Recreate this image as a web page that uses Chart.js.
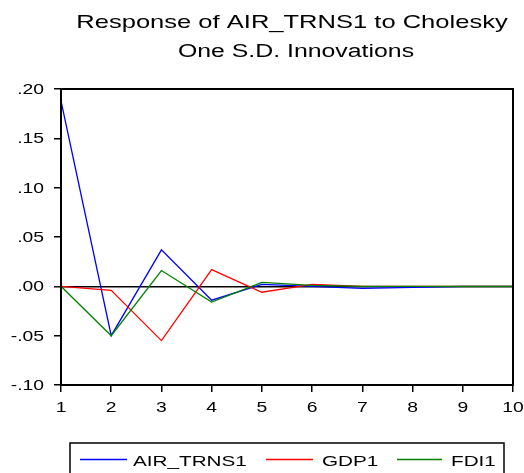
<!DOCTYPE html>
<html>
<head>
<meta charset="utf-8">
<script src="https://cdn.jsdelivr.net/npm/chart.js@4"></script>
<style>
  body { margin: 0; background: #fff; }
</style>
</head>
<body>
<canvas id="irfChart" width="524" height="473"></canvas>
<script>
// ===== DATA =====
const periods = [1, 2, 3, 4, 5, 6, 7, 8, 9, 10];
const airTrns1 = [0.188, -0.050, 0.037, -0.014, 0.002, 0.000, -0.002, -0.001, 0.000, 0.000];
const gdp1 = [0.000, -0.004, -0.055, 0.017, -0.006, 0.002, 0.000, 0.000, 0.000, 0.000];
const fdi1 = [0.000, -0.050, 0.016, -0.016, 0.004, 0.001, 0.000, 0.000, 0.000, 0.000];
const titleLines = ["Response of AIR_TRNS1 to Cholesky", "One S.D. Innovations"];

const FONT = "'Liberation Sans', Arial, sans-serif";
const STRETCH = 1.38; // the original picture is wider than normal text

function stretchedText(ctx, text, x, y, align, size) {
    ctx.save();
    ctx.font = size + "px " + FONT;
    ctx.fillStyle = "#000";
    ctx.textBaseline = "alphabetic";
    const w = ctx.measureText(text).width * STRETCH;
    let left = x;
    if (align === "center") left = x - w / 2;
    if (align === "right") left = x - w;
    ctx.translate(left, y);
    ctx.scale(STRETCH, 1);
    ctx.textAlign = "left";
    ctx.fillText(text, 0, 0);
    ctx.restore();
}

function fmtTick(v) {
    let s = Math.abs(v).toFixed(2).replace(/^0/, "");
    return (v < -1e-9 ? "-" : "") + s;
}

const toPoints = arr => periods.map((p, i) => ({ x: p, y: arr[i] }));

// ===== EXTRA DRAWING: title, frame, tick labels, legend =====
const decorPlugin = {
    id: "decor",
    afterDraw(chart) {
        const ctx = chart.ctx;
        const area = chart.chartArea;

        // title
        stretchedText(ctx, titleLines[0], 292, 28, "center", 18.5);
        stretchedText(ctx, titleLines[1], 296, 57, "center", 18);

        // frame
        ctx.save();
        ctx.strokeStyle = "#000";
        ctx.lineWidth = 2;
        ctx.strokeRect(area.left, area.top, area.right - area.left, area.bottom - area.top);
        ctx.restore();

        // y tick labels
        const y = chart.scales.y;
        y.ticks.forEach(t => {
            stretchedText(ctx, fmtTick(t.value), area.left - 17, y.getPixelForValue(t.value) + 5, "right", 14);
        });

        // x tick labels
        const x = chart.scales.x;
        x.ticks.forEach(t => {
            stretchedText(ctx, String(t.value), x.getPixelForValue(t.value), area.bottom + 27, "center", 14);
        });

        // legend
        ctx.save();
        ctx.strokeStyle = "#000";
        ctx.lineWidth = 1.5;
        ctx.strokeRect(70, 443, 434, 40);
        const items = [[80, 127, 133], [266, 313, 322], [397, 442, 451]];
        chart.data.datasets.forEach((ds, i) => {
            const it = items[i];
            ctx.strokeStyle = ds.borderColor;
            ctx.lineWidth = 1.3;
            ctx.beginPath();
            ctx.moveTo(it[0], 459.5);
            ctx.lineTo(it[1], 459.5);
            ctx.stroke();
            stretchedText(ctx, ds.label, it[2], 466, "left", 15);
        });
        ctx.restore();
    }
};

new Chart(document.getElementById("irfChart"), {
    type: "line",
    data: {
        datasets: [
            { label: "AIR_TRNS1", data: toPoints(airTrns1), borderColor: "#0000ff", order: 3 },
            { label: "GDP1", data: toPoints(gdp1), borderColor: "#ff0000", order: 2 },
            { label: "FDI1", data: toPoints(fdi1), borderColor: "#008000", order: 1 },
        ],
    },
    options: {
        responsive: false,
        animation: false,
        elements: {
            line: { borderWidth: 1.3, tension: 0, fill: false },
            point: { radius: 0 },
        },
        layout: { padding: { top: 89, left: 0, right: 11, bottom: 53 } },
        plugins: {
            legend: { display: false },
            title: { display: false },
            tooltip: { enabled: false },
        },
        scales: {
            x: {
                type: "linear",
                min: 1,
                max: 10,
                ticks: { stepSize: 1, display: false },
                grid: { drawOnChartArea: false, drawTicks: true, tickLength: 7, tickColor: "#000", lineWidth: 1.5 },
                border: { display: false },
                afterFit(scale) { scale.height = 35; },
            },
            y: {
                min: -0.1,
                max: 0.2,
                ticks: { stepSize: 0.05, display: false },
                grid: {
                    color: c => (c.tick && Math.abs(c.tick.value) < 1e-9 ? "#000" : "rgba(0,0,0,0)"),
                    lineWidth: 1.5,
                    drawTicks: true,
                    tickLength: 7,
                    tickColor: "#000",
                },
                border: { display: false },
                afterFit(scale) { scale.width = 61; },
            },
        },
    },
    plugins: [decorPlugin],
});
</script>
</body>
</html>
